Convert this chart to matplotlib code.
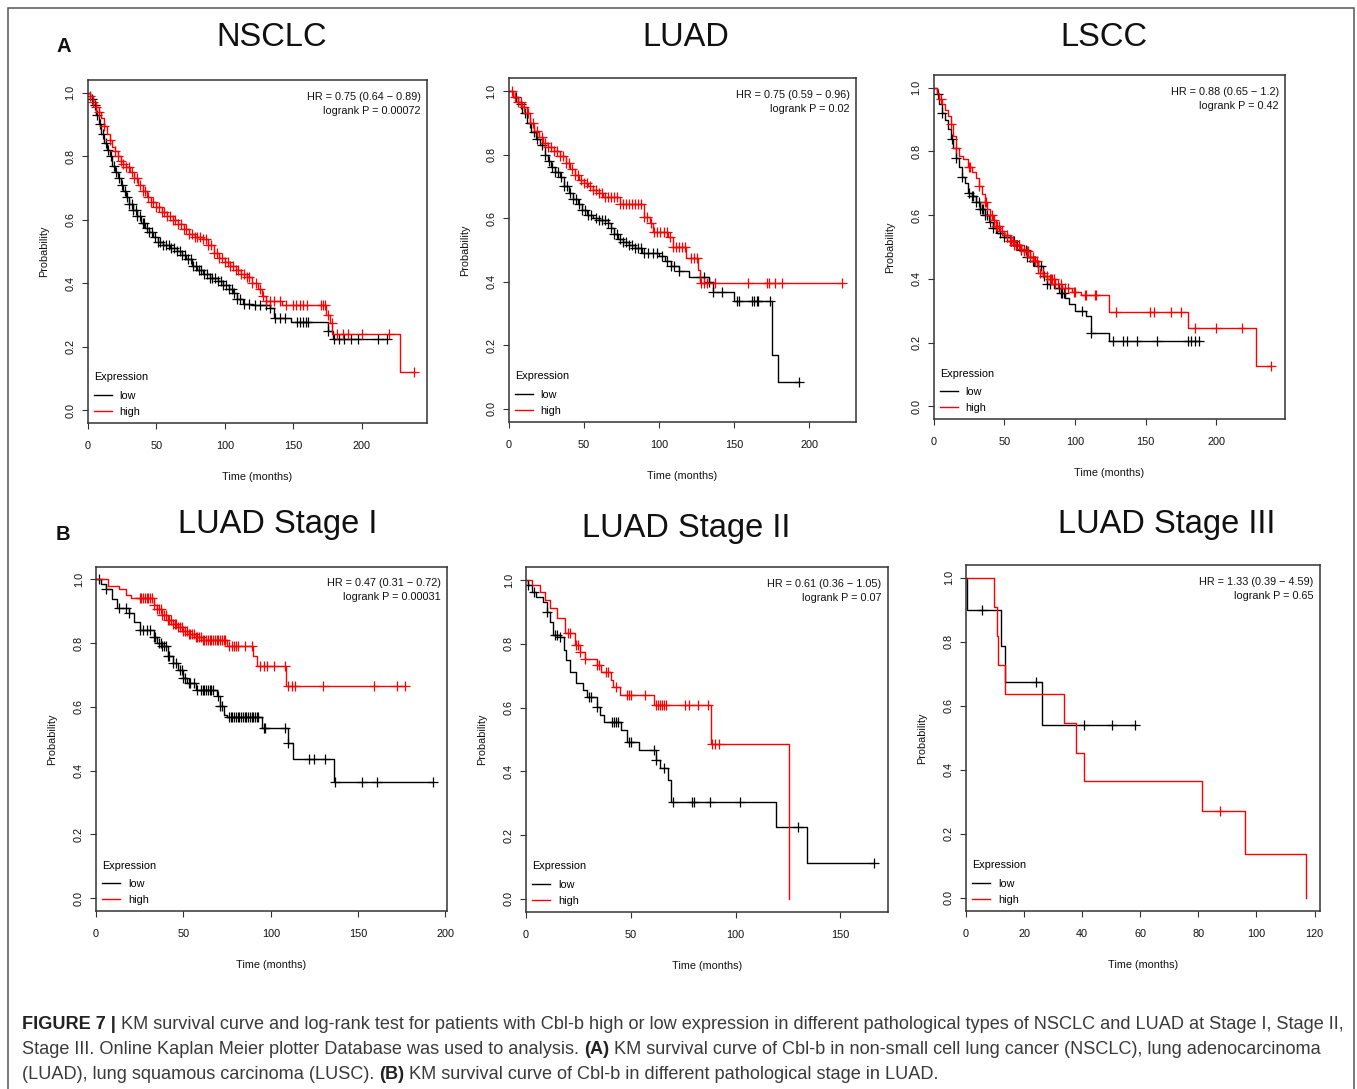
import numpy as np
import matplotlib
matplotlib.use('Agg')
import matplotlib.pyplot as plt
from matplotlib import font_manager
from matplotlib.lines import Line2D
from matplotlib.patches import Rectangle

W, H, DPI = 1357, 1089, 100

_names = {f.name for f in font_manager.fontManager.ttflist}
if 'Liberation Sans Narrow' in _names:
    PFONT, PSIZE = 'Liberation Sans Narrow', 9.0
else:
    PFONT, PSIZE = 'Liberation Sans', 7.8
CFONT = 'Liberation Sans'

# ---------------- data ----------------
titles = ["NSCLC", "LUAD", "LSCC", "LUAD Stage I", "LUAD Stage II", "LUAD Stage III"]
hr_texts = ["HR = 0.75 (0.64 \u2212 0.89)", "HR = 0.75 (0.59 \u2212 0.96)", "HR = 0.88 (0.65 \u2212 1.2)",
            "HR = 0.47 (0.31 \u2212 0.72)", "HR = 0.61 (0.36 \u2212 1.05)", "HR = 1.33 (0.39 \u2212 4.59)"]
p_texts = ["logrank P = 0.00072", "logrank P = 0.02", "logrank P = 0.42",
           "logrank P = 0.00031", "logrank P = 0.07", "logrank P = 0.65"]
xtick_sets = [[0, 50, 100, 150, 200], [0, 50, 100, 150, 200], [0, 50, 100, 150, 200],
              [0, 50, 100, 150, 200], [0, 50, 100, 150], [0, 20, 40, 60, 80, 100, 120]]
ytick_vals = [0.0, 0.2, 0.4, 0.6, 0.8, 1.0]
legend_labels = ["low", "high"]

# NSCLC
p1_low_t = [0, 2, 4, 6, 8, 10, 12, 14, 16, 18, 20, 22, 24, 26, 28, 30, 33, 36, 39, 42, 45, 48, 51, 55, 60, 65,
            69, 72, 76, 80, 84, 89, 95, 99, 103, 106, 109, 113, 120, 133, 136, 148, 175, 179]
p1_low_s = [1.0, 0.98, 0.96, 0.93, 0.90, 0.87, 0.84, 0.82, 0.80, 0.77, 0.75, 0.73, 0.71, 0.69, 0.67, 0.65, 0.63,
            0.61, 0.59, 0.575, 0.56, 0.545, 0.53, 0.52, 0.51, 0.50, 0.49, 0.475, 0.455, 0.44, 0.43, 0.415, 0.405,
            0.395, 0.38, 0.37, 0.35, 0.335, 0.33, 0.32, 0.29, 0.278, 0.25, 0.225]
p1_low_c = [3, 5, 7, 9, 11, 13, 15, 17, 19, 21, 23, 25, 27, 29, 30, 32, 33, 35, 36, 38, 40, 41, 43, 45, 47, 49, 51,
            53, 55, 57, 59, 61, 63, 65, 67, 69, 71, 73, 75, 77, 79, 81, 83, 85, 87, 89, 91, 93, 95, 97, 99, 101,
            103, 105, 107, 109, 111, 114, 118, 122, 126, 130, 133, 137, 140, 144, 153, 155, 157, 159, 161, 175,
            180, 183, 187, 192, 197, 212, 218]
p1_high_t = [0, 2, 4, 6, 8, 10, 12, 14, 16, 18, 20, 22, 24, 26, 28, 31, 34, 37, 40, 43, 46, 50, 54, 58, 62, 66, 70,
             74, 78, 84, 88, 92, 96, 100, 104, 108, 112, 116, 120, 124, 127, 130, 142, 174, 176.5, 178.5, 228]
p1_high_s = [1.0, 0.99, 0.97, 0.955, 0.94, 0.92, 0.895, 0.87, 0.85, 0.83, 0.815, 0.80, 0.785, 0.775, 0.765, 0.75,
             0.73, 0.71, 0.69, 0.67, 0.655, 0.64, 0.625, 0.61, 0.60, 0.585, 0.57, 0.555, 0.545, 0.54, 0.52, 0.495,
             0.48, 0.465, 0.455, 0.44, 0.43, 0.42, 0.40, 0.38, 0.36, 0.345, 0.33, 0.30, 0.273, 0.24, 0.12]
p1_high_c = [2, 4, 6, 8, 12, 16, 20, 22, 24, 26, 28, 30, 32, 34, 36, 38, 40, 42, 44, 46, 48, 50, 52, 54, 56, 58, 60,
             62, 64, 66, 68, 70, 72, 74, 76, 78, 80, 82, 84, 86, 88, 90, 92, 94, 96, 98, 100, 102, 104, 106, 108,
             110, 112, 114, 116, 118, 120, 123, 126, 128, 130, 133, 136, 140, 145, 150, 152, 155, 157, 160, 170,
             172, 173, 175, 178, 182, 186, 190, 200, 220, 238]

# LUAD
p2_low_t = [0, 3, 6, 9, 12, 15, 18, 21, 24, 26, 28, 31, 34, 37, 40, 43, 46, 49, 52, 56, 60, 66, 68, 70, 73, 76, 80,
            84, 89, 100, 104, 108, 113, 120, 133, 136, 150, 175, 179]
p2_low_s = [1.0, 0.98, 0.96, 0.93, 0.90, 0.87, 0.85, 0.83, 0.80, 0.78, 0.76, 0.745, 0.73, 0.70, 0.68, 0.66, 0.645,
            0.625, 0.61, 0.60, 0.595, 0.585, 0.57, 0.55, 0.535, 0.525, 0.515, 0.505, 0.49, 0.48, 0.465, 0.45,
            0.435, 0.415, 0.40, 0.367, 0.34, 0.17, 0.084]
p2_low_c = [5, 8, 11, 14, 17, 19, 22, 24, 27, 29, 31, 33, 35, 37, 39, 41, 43, 45, 47, 49, 51, 53, 55, 58, 60, 62, 64,
            66, 68, 70, 72, 74, 76, 78, 80, 82, 84, 86, 88, 90, 93, 96, 99, 102, 105, 108, 110, 113, 127, 130, 133,
            136, 142, 152, 153, 162, 163, 165, 166, 174, 193]
p2_high_t = [0, 3, 6, 9, 12, 14, 17, 20, 23, 26, 30, 34, 38, 41, 44, 47, 50, 53, 56, 60, 63, 74, 90, 94, 96, 106,
             109, 118, 126, 127]
p2_high_s = [1.0, 0.98, 0.965, 0.95, 0.93, 0.90, 0.875, 0.855, 0.835, 0.825, 0.81, 0.795, 0.775, 0.755, 0.735,
             0.72, 0.71, 0.70, 0.69, 0.68, 0.668, 0.645, 0.605, 0.584, 0.558, 0.542, 0.51, 0.474, 0.437, 0.395]
p2_high_c = [2, 4, 6, 8, 10, 13, 16, 19, 22, 24, 26, 28, 30, 32, 34, 36, 38, 40, 42, 44, 46, 48, 50, 52, 54, 56, 58,
             60, 62, 64, 66, 68, 70, 72, 74, 76, 78, 80, 82, 84, 86, 88, 90, 92, 95, 97, 99, 101, 103, 105, 107,
             109, 111, 113, 115, 117, 121, 123, 125, 128, 130, 132, 137, 159, 172, 173, 177, 182, 222]

# LSCC
p3_low_t = [0, 2, 4, 6, 8, 10, 12, 14, 16, 18, 20, 22, 24, 27, 30, 33, 36, 39, 42, 45, 50, 55, 58, 62, 66, 70, 74,
            77, 80, 85, 90, 93, 96, 100, 108, 111, 124]
p3_low_s = [1.0, 0.98, 0.95, 0.92, 0.90, 0.87, 0.84, 0.81, 0.78, 0.75, 0.72, 0.70, 0.67, 0.66, 0.64, 0.62, 0.60,
            0.58, 0.56, 0.545, 0.53, 0.52, 0.505, 0.49, 0.47, 0.455, 0.44, 0.41, 0.385, 0.37, 0.355, 0.34, 0.32,
            0.298, 0.282, 0.23, 0.204]
p3_low_c = [3, 6, 13, 16, 20, 25, 27, 28, 30, 32, 33, 34, 35, 36, 38, 40, 42, 44, 47, 50, 52, 55, 56, 57, 58, 59,
            60, 62, 64, 65, 66, 68, 70, 71, 72, 74, 76, 78, 80, 82, 89, 90, 91, 92, 105, 111, 127, 134, 137, 144,
            158, 180, 182, 185, 188]
p3_high_t = [0, 2, 4, 6, 8, 10, 12, 14, 16, 18, 21, 24, 27, 30, 32, 34, 36, 38, 40, 42, 44, 47, 50, 54, 57, 61, 64,
             68, 71, 74, 78, 82, 86, 91, 98, 104, 124, 180, 228]
p3_high_s = [1.0, 0.985, 0.965, 0.95, 0.93, 0.91, 0.885, 0.85, 0.81, 0.785, 0.775, 0.75, 0.735, 0.716, 0.69, 0.665,
             0.64, 0.62, 0.60, 0.585, 0.565, 0.55, 0.538, 0.52, 0.507, 0.495, 0.486, 0.47, 0.455, 0.418, 0.41, 0.40,
             0.385, 0.371, 0.36, 0.35, 0.295, 0.246, 0.125]
p3_high_c = [5, 12, 16, 25, 26, 32, 36, 37, 40, 41, 43, 44, 45, 46, 48, 52, 54, 55, 56, 57, 58, 60, 62, 64, 66, 67,
             68, 70, 72, 73, 75, 77, 80, 82, 83, 84, 85, 86, 88, 90, 93, 95, 99, 100, 107, 108, 114, 115, 129, 153,
             156, 168, 175, 185, 200, 218, 239]

# LUAD Stage I
p4_low_t = [0, 3, 6, 9, 12, 19, 22, 25, 33, 35, 38, 41, 44, 47, 50, 52, 57, 69, 71, 73, 75, 95, 110, 113, 136]
p4_low_s = [1.0, 0.985, 0.97, 0.94, 0.91, 0.895, 0.865, 0.843, 0.82, 0.80, 0.79, 0.76, 0.738, 0.717, 0.69, 0.675,
            0.654, 0.633, 0.602, 0.576, 0.57, 0.534, 0.487, 0.438, 0.364]
p4_low_c = [2, 6, 13, 17, 19, 25, 27, 29, 31, 33, 34, 36, 37, 38, 39, 40, 41, 42, 44, 46, 48, 49, 50, 51, 53, 54, 56,
            58, 60, 61, 62, 63, 64, 65, 66, 67, 70, 71, 72, 76, 77, 78, 79, 80, 81, 82, 83, 84, 85, 86, 87, 88, 89,
            90, 91, 92, 93, 96, 97, 108, 110, 122, 125, 131, 137, 152, 161, 193]
p4_high_t = [0, 7, 13, 17, 20, 33, 35, 38, 41, 44, 47, 50, 53, 57, 61, 75, 90, 92, 109]
p4_high_s = [1.0, 0.98, 0.97, 0.95, 0.942, 0.92, 0.906, 0.89, 0.874, 0.86, 0.85, 0.838, 0.83, 0.82, 0.811, 0.79,
             0.76, 0.728, 0.667]
p4_high_c = [25, 26, 27, 28, 29, 30, 31, 32, 33, 35, 36, 37, 38, 39, 40, 41, 42, 43, 44, 45, 46, 47, 48, 49, 50, 51,
             52, 53, 54, 55, 56, 57, 58, 59, 60, 61, 62, 63, 64, 65, 66, 67, 68, 69, 70, 71, 72, 73, 74, 76, 78, 79,
             80, 81, 85, 89, 94, 96, 98, 102, 108, 110, 112, 114, 130, 159, 172, 177]

# LUAD Stage II
p5_low_t = [0, 1, 3, 5, 8, 10, 11.5, 13, 16, 18, 19, 21, 24, 27, 29, 34, 35.5, 37, 45.5, 48, 54, 62, 64, 68, 69,
            119.5, 134]
p5_low_s = [1.0, 0.984, 0.963, 0.948, 0.932, 0.90, 0.869, 0.828, 0.822, 0.78, 0.749, 0.713, 0.676, 0.655, 0.634,
            0.603, 0.577, 0.556, 0.53, 0.493, 0.467, 0.436, 0.41, 0.373, 0.305, 0.227, 0.112]
p5_low_c = [1, 4, 10, 14, 15, 16, 30, 31, 34, 41, 42, 43, 44, 49, 50, 61, 62, 66, 70, 79, 80, 88, 102, 130, 166]
p5_high_t = [0, 3, 6.7, 9, 11.4, 14.6, 18.6, 23.4, 25.7, 28, 33.7, 36, 40.8, 41.6, 44.8, 61, 88.5, 125.5]
p5_high_s = [1.0, 0.984, 0.963, 0.937, 0.911, 0.88, 0.833, 0.796, 0.775, 0.754, 0.733, 0.713, 0.686, 0.666, 0.64,
             0.608, 0.486, 0.0]
p5_high_c = [20, 21, 24, 25, 26, 28, 34, 35, 38, 39, 43, 48, 49, 50, 57, 62, 63, 64, 65, 66, 67, 76, 78, 82, 87, 89,
             90, 92]

# LUAD Stage III
p6_low_t = [0, 0.2, 12.1, 13.6, 26.2]
p6_low_s = [1.0, 0.9, 0.7875, 0.675, 0.54]
p6_low_c = [5.6, 24.1, 40.6, 50.2, 58.3]
p6_high_t = [0, 9.8, 10.6, 10.9, 13.4, 33.9, 37.9, 40.8, 81.3, 96.2, 117.2]
p6_high_s = [1.0, 0.909, 0.818, 0.727, 0.636, 0.545, 0.454, 0.364, 0.273, 0.136, 0.0]
p6_high_c = [87.6]

curves = [
    ((p1_low_t, p1_low_s, p1_low_c), (p1_high_t, p1_high_s, p1_high_c)),
    ((p2_low_t, p2_low_s, p2_low_c), (p2_high_t, p2_high_s, p2_high_c)),
    ((p3_low_t, p3_low_s, p3_low_c), (p3_high_t, p3_high_s, p3_high_c)),
    ((p4_low_t, p4_low_s, p4_low_c), (p4_high_t, p4_high_s, p4_high_c)),
    ((p5_low_t, p5_low_s, p5_low_c), (p5_high_t, p5_high_s, p5_high_c)),
    ((p6_low_t, p6_low_s, p6_low_c), (p6_high_t, p6_high_s, p6_high_c)),
]

caption_lines = [
    [("FIGURE 7 |", True), (" KM survival curve and log-rank test for patients with Cbl-b high or low expression in "
                           "different pathological types of NSCLC and LUAD at Stage I, Stage II,", False)],
    [("Stage III. Online Kaplan Meier plotter Database was used to analysis. ", False), ("(A)", True),
     (" KM survival curve of Cbl-b in non-small cell lung cancer (NSCLC), lung adenocarcinoma", False)],
    [("(LUAD), lung squamous carcinoma (LUSC). ", False), ("(B)", True),
     (" KM survival curve of Cbl-b in different pathological stage in LUAD.", False)],
]

# ---------------- layout (pixels) ----------------
boxes = [(87.7, 427, 80, 422.7), (508.7, 855.7, 78.3, 421.7), (933.7, 1285, 75, 419),
         (96, 446.7, 566.7, 911), (526, 887.7, 567.3, 911.7), (966, 1320, 565, 910.7)]
title_pos = [(272, 38), (686, 38), (1104, 38), (278, 524), (686, 528), (1167, 524)]

fig = plt.figure(figsize=(W / DPI, H / DPI), dpi=DPI)
fig.patch.set_facecolor('white')

AXC = '#333333'
TXC = '#111111'
COLORS = ['black', '#ff0000']


def draw_km(ax, t, s, c, color):
    t = np.asarray(t, float)
    s = np.asarray(s, float)
    c = np.asarray(c, float)
    end = max(t[-1], c.max())
    tt = np.append(t, end)
    ss = np.append(s, s[-1])
    ax.step(tt, ss, where='post', color=color, lw=1.0)
    idx = np.searchsorted(t, c, side='right') - 1
    ax.plot(c, s[idx], ls='none', marker='+', ms=6.5, mew=0.9, color=color)
    return end


for i, (l, r, t, b) in enumerate(boxes):
    ax = fig.add_axes([l / W, 1 - b / H, (r - l) / W, (b - t) / H])
    tmax = 0
    for (ct, cs, cc), col in zip(curves[i], COLORS):
        tmax = max(tmax, draw_km(ax, ct, cs, cc, col))
    ax.set_xlim(0, tmax * 1.04)
    ax.set_ylim(-0.04, 1.04)
    ax.set_xticks(xtick_sets[i])
    ax.set_xticklabels([str(v) for v in xtick_sets[i]], family=PFONT, size=PSIZE)
    ax.set_yticks(ytick_vals)
    ax.set_yticklabels([f"{v:.1f}" for v in ytick_vals], family=PFONT, size=PSIZE, rotation=90,
                       va='center', ha='right')
    ax.tick_params(direction='out', length=4.3, width=0.8, color=AXC, labelcolor=TXC)
    ax.tick_params(axis='x', pad=9)
    ax.tick_params(axis='y', pad=4.5)
    for sp in ax.spines.values():
        sp.set_color(AXC)
        sp.set_linewidth(1.1)
    ax.set_xlabel("Time (months)", family=PFONT, size=PSIZE, color=TXC, labelpad=15)
    ax.set_ylabel("Probability", family=PFONT, size=PSIZE, color=TXC, labelpad=12)
    ax.text(0.982, 0.966, hr_texts[i] + "\n" + p_texts[i], transform=ax.transAxes, ha='right', va='top',
            family=PFONT, size=PSIZE, color=TXC, linespacing=1.5)
    handles = [Line2D([], [], color=COLORS[0], lw=1.0), Line2D([], [], color=COLORS[1], lw=1.0)]
    leg = ax.legend(handles, legend_labels, title="Expression", loc='lower left', frameon=False,
                    prop={'family': PFONT, 'size': PSIZE}, title_fontproperties={'family': PFONT, 'size': PSIZE},
                    handlelength=1.7, handletextpad=0.7, labelspacing=0.55, borderaxespad=0.3, borderpad=0.25,
                    alignment='left')
    leg._legend_box.sep = 6
    fig.text(title_pos[i][0] / W, 1 - title_pos[i][1] / H, titles[i], ha='center', va='center',
             family='Liberation Sans', size=23.5, color=TXC)

fig.text(64 / W, 1 - 46 / H, "A", ha='center', va='center', family='Liberation Sans', weight='bold', size=14.5,
         color=TXC)
fig.text(63 / W, 1 - 535 / H, "B", ha='center', va='center', family='Liberation Sans', weight='bold', size=14.5,
         color=TXC)

# outer frame
fig.add_artist(Rectangle((8 / W, -0.05), (1354 - 8) / W, 1 - 8 / H + 0.05, transform=fig.transFigure,
                         fill=False, ec='#555555', lw=1.1))

# caption, fitted to the reference line width
renderer = fig.canvas.get_renderer()


def draw_line(segs, x0, ybase, size):
    x = x0
    arts = []
    for txt, bold in segs:
        a = fig.text(x / W, 1 - ybase / H, txt, ha='left', va='baseline', family=CFONT, size=size,
                     weight='bold' if bold else 'normal', color='#222222' if bold else '#3a3a3a')
        x += a.get_window_extent(renderer).width
        arts.append(a)
    return arts, x - x0


arts, w = draw_line(caption_lines[0], 22, 1029, 11)
for a in arts:
    a.remove()
csize = 11 * 1316 / w
for k, yb in enumerate([1029, 1054, 1079]):
    draw_line(caption_lines[k], 22, yb, csize)

fig.savefig('out.png', dpi=DPI)
